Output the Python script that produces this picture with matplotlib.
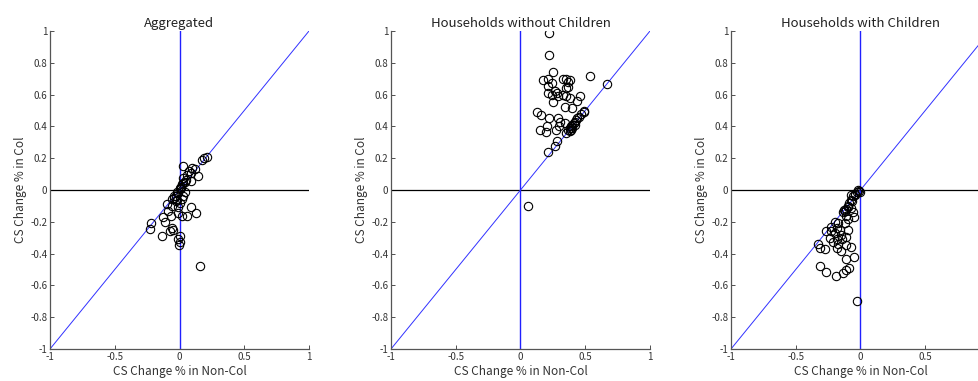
"""
Consumer surplus change: collusive vs non-collusive scenario,
aggregated and split by household type.
"""
import matplotlib
matplotlib.use("Agg")
import matplotlib.pyplot as plt
from matplotlib.ticker import FormatStrFormatter

plt.rcParams["font.family"] = ["Noto Sans CJK JP", "DejaVu Sans"]
plt.rcParams["axes.unicode_minus"] = False

# CS change (%) in the non-collusive (x) and collusive (y) scenario
agg_noncol = [0.19, 0.21, 0.175, 0.03, 0.10, 0.12, 0.14, 0.07, 0.085, 0.06,
              0.03, 0.085, 0.03, 0.02, 0.01, 0.0, -0.02, 0.045, 0.03, 0.02,
              -0.045, -0.055, -0.03, -0.02, -0.10, -0.06, -0.085, -0.01, -0.01, 0.085,
              0.13, 0.06, 0.02, -0.065, -0.125, -0.11, -0.22, -0.23, -0.135, -0.06,
              -0.05, -0.07, 0.005, -0.013, -0.005, 0.155, 0.003, 0.005, 0.015, 0.04,
              0.05, -0.01, -0.03, 0.0, -0.04]
agg_col = [0.20, 0.21, 0.19, 0.15, 0.14, 0.13, 0.09, 0.12, 0.105, 0.095,
           0.075, 0.055, 0.045, 0.035, 0.02, 0.01, -0.01, -0.015, -0.04, -0.055,
           -0.04, -0.055, -0.07, -0.065, -0.09, -0.10, -0.135, -0.11, -0.145, -0.105,
           -0.145, -0.165, -0.165, -0.165, -0.17, -0.20, -0.21, -0.245, -0.29, -0.24,
           -0.25, -0.255, -0.29, -0.31, -0.345, -0.475, -0.33, 0.005, 0.01, 0.05,
           0.06, -0.02, -0.035, -0.08, -0.05]

nochild_noncol = [0.22, 0.22, 0.25, 0.17, 0.21, 0.24, 0.21, 0.215, 0.24, 0.265,
                  0.28, 0.29, 0.25, 0.33, 0.355, 0.37, 0.385, 0.35, 0.37, 0.33,
                  0.355, 0.38, 0.345, 0.40, 0.46, 0.44, 0.535, 0.67, 0.125, 0.16,
                  0.22, 0.29, 0.305, 0.345, 0.205, 0.15, 0.20, 0.275, 0.30, 0.28,
                  0.265, 0.215, 0.355, 0.37, 0.38, 0.39, 0.40, 0.41, 0.42, 0.43,
                  0.44, 0.45, 0.47, 0.49, 0.38, 0.40, 0.42, 0.39, 0.49, 0.06]
nochild_col = [0.99, 0.85, 0.74, 0.69, 0.70, 0.67, 0.655, 0.61, 0.60, 0.62,
               0.61, 0.59, 0.555, 0.695, 0.70, 0.68, 0.69, 0.64, 0.65, 0.595,
               0.59, 0.58, 0.52, 0.515, 0.59, 0.56, 0.72, 0.665, 0.49, 0.47,
               0.455, 0.455, 0.425, 0.42, 0.40, 0.375, 0.365, 0.38, 0.405, 0.31,
               0.275, 0.237, 0.36, 0.38, 0.39, 0.40, 0.41, 0.42, 0.43, 0.44,
               0.45, 0.46, 0.48, 0.49, 0.37, 0.39, 0.41, 0.38, 0.495, -0.10]

child_noncol = [-0.02, -0.005, -0.03, -0.045, -0.055, -0.075, -0.07, -0.085, -0.095, -0.11,
                -0.12, -0.135, -0.07, -0.055, -0.05, -0.11, -0.095, -0.12, -0.20, -0.175,
                -0.225, -0.185, -0.16, -0.095, -0.27, -0.225, -0.20, -0.15, -0.11, -0.235,
                -0.185, -0.145, -0.21, -0.17, -0.11, -0.33, -0.31, -0.275, -0.185, -0.15,
                -0.075, -0.11, -0.05, -0.31, -0.27, -0.19, -0.135, -0.11, -0.085, -0.025,
                -0.01, -0.04, -0.065, -0.1, -0.13]
child_col = [0.0, -0.01, -0.015, -0.03, -0.04, -0.03, -0.06, -0.08, -0.10, -0.12,
             -0.135, -0.14, -0.115, -0.14, -0.17, -0.165, -0.185, -0.21, -0.20, -0.21,
             -0.23, -0.24, -0.25, -0.25, -0.255, -0.26, -0.27, -0.28, -0.295, -0.30,
             -0.31, -0.31, -0.33, -0.34, -0.345, -0.34, -0.365, -0.37, -0.365, -0.385,
             -0.36, -0.435, -0.42, -0.48, -0.515, -0.54, -0.52, -0.50, -0.49, -0.70,
             -0.005, -0.025, -0.07, -0.11, -0.125]

titles = ["Aggregated", "Households without Children", "Households with Children"]
panels = [(agg_noncol, agg_col), (nochild_noncol, nochild_col), (child_noncol, child_col)]
x_ticks = [-1, -0.5, 0, 0.5, 1]
y_ticks = [-1, -0.8, -0.6, -0.4, -0.2, 0, 0.2, 0.4, 0.6, 0.8, 1]

fig = plt.figure(figsize=(9.79, 3.81), dpi=100)
lefts = [50 / 979, 391 / 979, 731 / 979]
w, b, h = 259 / 979, 1 - 349 / 381, 318 / 381

for i, (left, title, (xs, ys)) in enumerate(zip(lefts, titles, panels)):
    ax = fig.add_axes([left, b, w, h])
    ax.plot([-1, 1], [0, 0], color="black", lw=0.9)
    ax.plot([0, 0], [-1, 1], color="#2020ff", lw=1.0)
    ax.plot([-1, 1], [-1, 1], color="#3030ff", lw=0.7)
    ax.plot(xs, ys, "o", mfc="none", mec="black", ms=6, mew=0.8)

    ax.set_xlim(-1, 1)
    ax.set_ylim(-1, 1)
    ax.set_xticks(x_ticks)
    ax.set_yticks(y_ticks)
    ax.xaxis.set_major_formatter(FormatStrFormatter("%g"))
    ax.yaxis.set_major_formatter(FormatStrFormatter("%g"))
    if i == 2:
        # last panel runs past the figure edge; its "1" label would be clipped
        ax.set_xticklabels(["-1", "-0.5", "0", "0.5", ""])
    ax.tick_params(direction="in", length=3, width=0.6, labelsize=7,
                   colors="#333333", pad=2)
    for side in ("top", "right"):
        ax.spines[side].set_visible(False)
    for side in ("left", "bottom"):
        ax.spines[side].set_color("#555555")
        ax.spines[side].set_linewidth(0.9)

    ax.set_title(title, fontsize=9.5, color="#222222", pad=3)
    ax.set_xlabel("CS Change % in Non-Col", fontsize=8.5, color="#333333", labelpad=2)
    ax.set_ylabel("CS Change % in Col", fontsize=8.5, color="#333333", labelpad=2)

fig.savefig("out.png", dpi=100)
